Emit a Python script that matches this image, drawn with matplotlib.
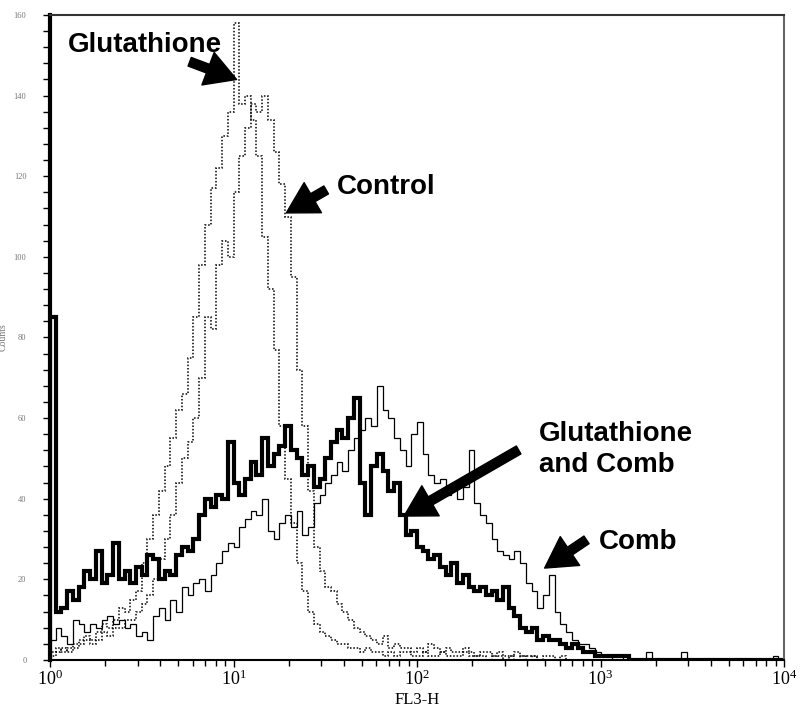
import numpy as np
import matplotlib
matplotlib.use("Agg")
import matplotlib.pyplot as plt
from matplotlib.ticker import FixedLocator, NullFormatter, LogLocator

# histogram counts, 32 channels per decade, channel 0 starts at 10^0
channels_per_decade = 32
n_channels = 128

glut_comb = [85, 12, 13, 17, 15, 18, 22, 20, 27, 19, 21, 29, 20, 22, 19, 23, 21, 26, 25, 20,
             22, 21, 26, 28, 27, 30, 36, 40, 38, 41, 40, 54, 44, 41, 45, 49, 46, 55, 48, 51,
             53, 58, 52, 50, 46, 48, 43, 45, 50, 54, 57, 55, 60, 65, 44, 36, 48, 51, 47, 42,
             44, 36, 31, 32, 28, 27, 25, 26, 23, 21, 24, 19, 21, 18, 17, 18, 16, 17, 15, 18,
             13, 11, 8, 7, 8, 5, 6, 5, 5, 4, 3, 4, 3, 2, 2, 1, 1, 1, 1, 1, 1]

comb = [5, 8, 6, 4, 10, 9, 7, 9, 8, 10, 11, 9, 10, 8, 9, 6, 7, 5, 11, 13,
        10, 15, 12, 18, 16, 19, 20, 17, 21, 24, 27, 29, 28, 33, 35, 37, 36, 40, 32, 30,
        34, 36, 33, 37, 31, 33, 39, 41, 44, 46, 49, 47, 52, 55, 57, 60, 58, 68, 62, 60,
        55, 52, 48, 56, 59, 51, 46, 44, 45, 41, 44, 40, 43, 52, 39, 36, 34, 30, 27, 26,
        25, 27, 24, 19, 17, 13, 16, 21, 12, 9, 7, 5, 4, 4, 3, 2, 1, 1, 0, 0,
        1, 0, 0, 0, 2, 0, 0, 0, 0, 0, 2, 0, 0, 0, 0, 0, 0, 0, 0, 0,
        0, 0, 0, 0, 0, 0, 1]

glutathione = [2, 3, 2, 3, 4, 5, 6, 5, 7, 9, 8, 10, 13, 12, 15, 17, 24, 30, 36, 42,
               48, 55, 62, 66, 75, 85, 98, 108, 117, 122, 130, 136, 158, 138, 140, 134, 125, 105, 92, 77,
               58, 45, 34, 24, 17, 12, 9, 7, 6, 5, 4, 4, 3, 3, 2, 3, 2, 2, 1, 2,
               1, 2, 2, 1, 1, 2, 1, 1, 2, 1, 1, 1, 2, 1, 1, 1, 0, 1, 1, 0,
               1, 0, 1, 0, 1]

control = [1, 2, 3, 2, 3, 4, 5, 4, 5, 7, 6, 8, 8, 10, 10, 12, 14, 16, 20, 25,
           30, 36, 44, 50, 54, 60, 70, 85, 82, 98, 104, 100, 116, 125, 132, 138, 136, 140, 134, 126,
           118, 110, 95, 72, 58, 42, 28, 22, 18, 17, 14, 12, 10, 8, 7, 6, 5, 4, 6, 3,
           4, 3, 3, 2, 3, 2, 4, 3, 2, 3, 2, 2, 3, 2, 1, 2, 2, 1, 2, 1,
           1, 2, 1, 1, 1, 0, 1, 1, 0, 1]

y_ticks = [0, 20, 40, 60, 80, 100, 120, 140, 160]


def full(vals):
    return np.pad(np.array(vals, dtype=float), (0, n_channels - len(vals)))


edges = 10 ** (np.arange(n_channels + 1) / channels_per_decade)

plt.rcParams['font.family'] = 'serif'
plt.rcParams['font.serif'] = ['Liberation Serif', 'DejaVu Serif']
plt.rcParams['mathtext.fontset'] = 'custom'
plt.rcParams['mathtext.rm'] = 'Liberation Serif'
plt.rcParams['mathtext.it'] = 'Liberation Serif'

fig = plt.figure(figsize=(8, 7.07), dpi=100)
ax = fig.add_axes([0.0625, 0.0665, 0.9175, 0.9123])

ax.stairs(full(glut_comb), edges, baseline=0, color='black', lw=3.0)
ax.stairs(full(comb), edges, baseline=0, color='black', lw=0.9)
ax.stairs(full(glutathione), edges, baseline=0, color='black', lw=1.1, linestyle=(0, (1, 1.2)))
ax.stairs(full(control), edges, baseline=0, color='black', lw=1.1, linestyle=(0, (1, 1.2)))

ax.set_xscale('log')
ax.set_xlim(1, 1e4)
ax.set_ylim(0, 160)

ax.xaxis.set_major_locator(LogLocator(base=10, numticks=10))
ax.xaxis.set_minor_locator(LogLocator(base=10, subs=np.arange(2, 10), numticks=20))
ax.xaxis.set_minor_formatter(NullFormatter())
ax.yaxis.set_major_locator(FixedLocator(y_ticks))
ax.yaxis.set_minor_locator(FixedLocator(np.arange(0, 161, 4)))
ax.set_yticklabels([str(v) for v in y_ticks], fontsize=6, color='#777777')

ax.tick_params(axis='x', which='major', direction='out', length=5, width=1, labelsize=13, pad=2)
ax.tick_params(axis='x', which='minor', direction='out', length=4, width=1)
ax.tick_params(axis='y', which='major', direction='out', length=5, width=1, pad=12)
ax.tick_params(axis='y', which='minor', direction='out', length=5, width=1)

ax.set_xlabel('FL3-H', fontsize=12)
ax.xaxis.set_label_coords(0.5, -0.049)
ax.set_ylabel('Counts', fontsize=7, color='#777777', labelpad=4)

ax.spines['left'].set_linewidth(3)
ax.spines['bottom'].set_linewidth(1.5)
ax.spines['top'].set_linewidth(1.5)
ax.spines['right'].set_linewidth(1.5)
ax.spines['top'].set_color('#333333')
ax.spines['right'].set_color('#666666')

label_font = dict(family='Liberation Sans', fontsize=20, fontweight='bold', va='center', ha='left')
arrow = dict(arrowstyle='simple, head_width=1.25, head_length=1.1, tail_width=0.33',
             mutation_scale=20, color='black', shrinkA=0, shrinkB=0)

ax.text(1.25, 152.6, 'Glutathione', **label_font)
ax.annotate('', xy=(10.4, 144), xytext=(5.77, 148.4), arrowprops=arrow)

ax.text(36.7, 117.4, 'Control', **label_font)
ax.annotate('', xy=(19.4, 110.9), xytext=(32.0, 116.6), arrowprops=arrow)

ax.text(460, 52.1, 'Glutathione\nand Comb', linespacing=1.25, **label_font)
ax.annotate('', xy=(85, 35.7), xytext=(358, 52.1), arrowprops=arrow)

ax.text(975, 29.3, 'Comb', **label_font)
ax.annotate('', xy=(496, 22.8), xytext=(839, 29.8), arrowprops=arrow)

fig.savefig('out.png', dpi=100)
